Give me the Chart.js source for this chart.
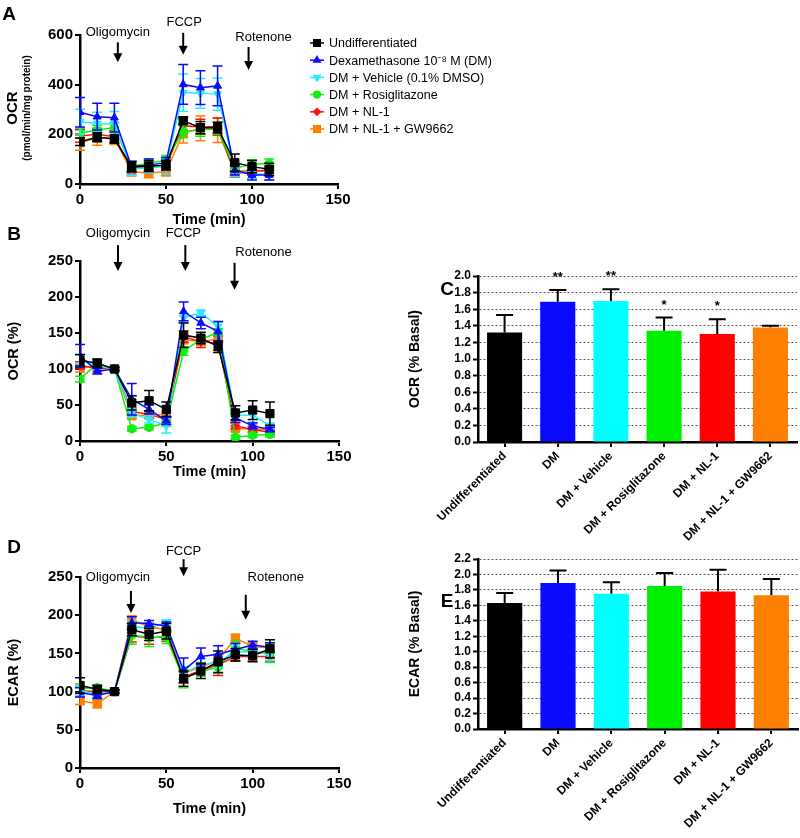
<!DOCTYPE html>
<html>
<head>
<meta charset="utf-8">
<script src="https://cdn.jsdelivr.net/npm/chart.js@4.4.0/dist/chart.umd.min.js"></script>
<style>
  html, body { margin: 0; padding: 0; background: #fff; }
  #page { position: relative; width: 800px; height: 838px; background: #fff; overflow: hidden; }
  #page canvas { position: absolute; }
  .letter { position: absolute; font: bold 19px "Liberation Sans", Arial, sans-serif; line-height: 1; transform: translate(-50%, -50%); color: #000; }
</style>
</head>
<body>
<div id="page">
  <canvas id="chartA" width="560" height="240" style="left:0;top:0;width:560px;height:240px"></canvas>
  <canvas id="chartB" width="380" height="280" style="left:0;top:215px;width:380px;height:280px"></canvas>
  <canvas id="chartD" width="380" height="308" style="left:0;top:530px;width:380px;height:308px"></canvas>
  <canvas id="chartC" width="400" height="290" style="left:400px;top:255px;width:400px;height:290px"></canvas>
  <canvas id="chartE" width="400" height="298" style="left:400px;top:540px;width:400px;height:298px"></canvas>
  <div class="letter" style="left:9px;top:13px">A</div>
  <div class="letter" style="left:14px;top:233px">B</div>
  <div class="letter" style="left:447px;top:288px">C</div>
  <div class="letter" style="left:14px;top:546px">D</div>
  <div class="letter" style="left:447px;top:600px">E</div>
</div>
<script>
// ---- data ----
const times = [0, 10, 20, 30, 40, 50, 60, 70, 80, 90, 100, 110];
const seriesNames = ["Undifferentiated", "Dexamethasone 10\u207B\u2078 M (DM)", "DM + Vehicle (0.1% DMSO)",
  "DM + Rosiglitazone", "DM + NL-1", "DM + NL-1 + GW9662"];
const barCategories = ["Undifferentiated", "DM", "DM + Vehicle", "DM + Rosiglitazone", "DM + NL-1", "DM + NL-1 + GW9662"];

// A: OCR (pmol/min/mg protein)
const ocrUndiff    = [170, 188, 181, 70, 72, 76, 255, 227, 227, 86, 70, 59];
const ocrUndiffErr = [15, 18, 16, 20, 22, 20, 15, 25, 22, 35, 25, 25];
const ocrDM        = [289, 271, 267, 70, 76, 87, 401, 388, 395, 56, 36, 36];
const ocrDMErr     = [59, 54, 58, 22, 25, 20, 80, 68, 80, 20, 20, 20];
const ocrVeh       = [251, 244, 242, 60, 65, 70, 368, 365, 362, 50, 43, 36];
const ocrVehErr    = [50, 45, 50, 25, 20, 30, 75, 60, 65, 20, 20, 20];
const ocrRosi      = [204, 217, 227, 74, 83, 97, 211, 217, 224, 63, 80, 83];
const ocrRosiErr   = [20, 20, 20, 18, 18, 18, 25, 25, 25, 18, 18, 18];
const ocrNL1       = [193, 200, 190, 63, 70, 74, 234, 231, 231, 43, 50, 56];
const ocrNL1Err    = [25, 25, 25, 18, 18, 18, 30, 30, 35, 15, 15, 15];
const ocrGW        = [166, 186, 184, 50, 43, 50, 205, 224, 217, 50, 56, 50];
const ocrGWErr     = [30, 30, 25, 18, 18, 18, 40, 50, 50, 18, 18, 18];

// B: OCR (%)
const pctUndiff    = [112, 108, 100, 53, 56, 44, 147, 143, 131, 39, 43, 38];
const pctUndiffErr = [8, 6, 2, 10, 14, 10, 17, 8, 8, 10, 13, 16];
const pctDM        = [118, 97, 100, 58, 44, 28, 180, 164, 152, 32, 21, 16];
const pctDMErr     = [16, 4, 2, 22, 6, 5, 13, 8, 14, 6, 4, 3];
const pctVeh       = [113, 104, 100, 39, 30, 21, 171, 178, 159, 35, 36, 21];
const pctVehErr    = [6, 4, 2, 6, 5, 10, 6, 4, 6, 6, 10, 4];
const pctRosi      = [86, 108, 100, 17, 19, 25, 125, 141, 151, 5, 8, 9];
const pctRosiErr   = [4, 4, 2, 3, 3, 4, 6, 5, 5, 3, 3, 3];
const pctNL1       = [105, 101, 100, 41, 37, 30, 145, 138, 136, 21, 16, 12];
const pctNL1Err    = [5, 4, 2, 5, 5, 4, 8, 8, 10, 4, 4, 3];
const pctGW        = [101, 104, 100, 35, 36, 37, 141, 138, 142, 17, 17, 16];
const pctGWErr     = [5, 4, 2, 4, 4, 4, 6, 5, 6, 3, 3, 3];

// D: ECAR (%)
const ecarUndiff    = [108, 103, 100, 181, 175, 179, 117, 127, 139, 148, 147, 156];
const ecarUndiffErr = [10, 5, 2, 8, 8, 10, 10, 10, 14, 8, 8, 12];
const ecarDM        = [99, 95, 100, 190, 189, 186, 128, 146, 149, 155, 161, 158];
const ecarDMErr     = [6, 4, 2, 8, 4, 5, 16, 11, 11, 8, 5, 6];
const ecarVeh       = [101, 97, 100, 185, 183, 190, 124, 135, 139, 152, 152, 149];
const ecarVehErr    = [6, 4, 2, 8, 6, 4, 8, 8, 8, 8, 6, 8];
const ecarRosi      = [104, 105, 100, 174, 171, 171, 117, 126, 132, 157, 152, 150];
const ecarRosiErr   = [6, 4, 2, 12, 12, 8, 12, 6, 8, 10, 8, 12];
const ecarNL1       = [101, 100, 100, 173, 170, 172, 119, 128, 135, 146, 146, 146];
const ecarNL1Err    = [6, 4, 2, 8, 8, 6, 8, 8, 14, 6, 6, 6];
const ecarGW        = [88, 84, 100, 194, 185, 181, 124, 132, 141, 170, 159, 157];
const ecarGWErr     = [5, 5, 2, 5, 4, 4, 8, 6, 6, 5, 5, 6];

// C / E: fold of basal
const ocrBasal     = [1.32, 1.69, 1.70, 1.34, 1.30, 1.38];
const ocrBasalErr  = [0.21, 0.14, 0.14, 0.16, 0.18, 0.02];
const ocrBasalSig  = ["", "**", "**", "*", "*", ""];
const ecarBasal    = [1.63, 1.89, 1.75, 1.85, 1.78, 1.73];
const ecarBasalErr = [0.13, 0.16, 0.15, 0.17, 0.28, 0.21];

// injection arrows: time (min) and the value the arrow points to
const arrowsA = [{ text: "Oligomycin", t: 22, tip: 490 }, { text: "FCCP", t: 60, tip: 520 }, { text: "Rotenone", t: 98, tip: 459 }];
const arrowsB = [{ text: "Oligomycin", t: 22, tip: 236 }, { text: "FCCP", t: 61, tip: 236 }, { text: "Rotenone", t: 89.5, tip: 210 }];
const arrowsD = [{ text: "Oligomycin", t: 29.5, tip: 203 }, { text: "FCCP", t: 60, tip: 251 }, { text: "Rotenone", t: 96, tip: 194 }];

// ---- styles ----
const FONT = '"Liberation Sans", Arial, Helvetica, sans-serif';
const seriesStyles = [
  { color: "#000000", pointStyle: "rect", radius: 5.8, rotation: 0 },
  { color: "#0a0aff", pointStyle: "triangle", radius: 4.6, rotation: 0 },
  { color: "#22eeff", pointStyle: "triangle", radius: 4.6, rotation: 180 },
  { color: "#11ee11", pointStyle: "circle", radius: 4.2, rotation: 0 },
  { color: "#ff1010", pointStyle: "rectRot", radius: 4.2, rotation: 0 },
  { color: "#ff8000", pointStyle: "rect", radius: 5.8, rotation: 0 }
];
const barColors = ["#000000", "#0a0aff", "#00ffff", "#00ee00", "#ff0000", "#ff8000"];

// error bars drawn under each dataset
const errorBars = {
  id: "errorBars",
  beforeDatasetDraw(chart, args) {
    const ds = chart.data.datasets[args.index];
    if (!ds.errors) return;
    const ctx = chart.ctx, ys = chart.scales.y;
    const half = ds.capHalf || 5;
    ctx.save();
    ctx.lineWidth = ds.errWidth || 1.5;
    args.meta.data.forEach((el, i) => {
      const d = ds.data[i];
      const v = typeof d === "object" ? d.y : d;
      const e = ds.errors[i];
      ctx.strokeStyle = ds.errColor || ds.borderColor;
      const x = el.x;
      const yTop = ys.getPixelForValue(v + e);
      const yBot = ds.upOnly ? ys.getPixelForValue(v) : ys.getPixelForValue(v - e);
      ctx.beginPath();
      ctx.moveTo(x, yBot); ctx.lineTo(x, yTop);
      ctx.moveTo(x - half, yTop); ctx.lineTo(x + half, yTop);
      if (!ds.upOnly) { ctx.moveTo(x - half, yBot); ctx.lineTo(x + half, yBot); }
      ctx.stroke();
    });
    ctx.restore();
  }
};

// arrows with labels for injections
const injections = {
  id: "injections",
  afterDraw(chart, args, opts) {
    if (!opts.items) return;
    const ctx = chart.ctx, xs = chart.scales.x, ys = chart.scales.y;
    ctx.save();
    ctx.fillStyle = "#000"; ctx.strokeStyle = "#000"; ctx.lineWidth = 2;
    ctx.font = "13px " + FONT; ctx.textAlign = "center"; ctx.textBaseline = "middle";
    opts.items.forEach((a, k) => {
      const x = xs.getPixelForValue(a.t);
      const tip = ys.getPixelForValue(a.tip);
      const top = tip - opts.len[k];
      ctx.beginPath(); ctx.moveTo(x, top); ctx.lineTo(x, tip - 6); ctx.stroke();
      ctx.beginPath(); ctx.moveTo(x - 4.5, tip - 9); ctx.lineTo(x + 4.5, tip - 9); ctx.lineTo(x, tip); ctx.closePath(); ctx.fill();
      ctx.fillText(a.text, x + opts.dx[k], top - opts.gap[k]);
    });
    ctx.restore();
  }
};

// legend drawn next to panel A
const seriesLegend = {
  id: "seriesLegend",
  afterDraw(chart, args, opts) {
    if (!opts.show) return;
    const ctx = chart.ctx;
    ctx.save();
    ctx.font = "12.5px " + FONT; ctx.textBaseline = "middle"; ctx.textAlign = "left";
    chart.data.datasets.forEach((ds, k) => {
      const y = opts.y + k * opts.rowH;
      ctx.strokeStyle = ds.borderColor; ctx.lineWidth = 1.5;
      ctx.beginPath(); ctx.moveTo(opts.x - 7, y); ctx.lineTo(opts.x + 7, y); ctx.stroke();
      ctx.fillStyle = ds.borderColor;
      Chart.helpers.drawPoint(ctx, { pointStyle: ds.pointStyle, rotation: ds.pointRotation, radius: ds.pointRadius * 0.8, borderWidth: 1 }, opts.x, y);
      ctx.fillStyle = "#000";
      ctx.fillText(ds.label, opts.x + 12, y + 1);
    });
    ctx.restore();
  }
};

// two-line y title of panel A
const sideTitle = {
  id: "sideTitle",
  afterDraw(chart, args, opts) {
    if (!opts.lines) return;
    const ctx = chart.ctx;
    opts.lines.forEach(l => {
      ctx.save();
      ctx.translate(l.x, opts.y); ctx.rotate(-Math.PI / 2);
      ctx.font = "bold " + l.size + "px " + FONT; ctx.fillStyle = "#000";
      ctx.textAlign = "center"; ctx.textBaseline = "middle";
      ctx.fillText(l.text, 0, 0);
      ctx.restore();
    });
  }
};

// significance stars above the bar error bars
const sigStars = {
  id: "sigStars",
  afterDatasetsDraw(chart, args, opts) {
    if (!opts.marks) return;
    const ctx = chart.ctx, ds = chart.data.datasets[0], ys = chart.scales.y;
    const meta = chart.getDatasetMeta(0);
    ctx.save();
    ctx.font = "bold 13px " + FONT; ctx.fillStyle = "#000"; ctx.textAlign = "center"; ctx.textBaseline = "bottom";
    opts.marks.forEach((m, i) => {
      if (!m) return;
      const y = ys.getPixelForValue(ds.data[i] + ds.errors[i]);
      ctx.fillText(m, meta.data[i].x, y - 6);
    });
    ctx.restore();
  }
};

function lineChart(id, area, size, yMax, yStep, yTitle, titlePad, values, errs, arrows, arrowOpts, extra) {
  const datasets = values.map((vals, k) => ({
    label: seriesNames[k],
    data: vals.map((v, i) => ({ x: times[i], y: v })),
    errors: errs[k],
    borderColor: seriesStyles[k].color,
    backgroundColor: seriesStyles[k].color,
    pointBackgroundColor: seriesStyles[k].color,
    pointBorderColor: seriesStyles[k].color,
    pointStyle: seriesStyles[k].pointStyle,
    pointRadius: seriesStyles[k].radius,
    pointRotation: seriesStyles[k].rotation,
    pointBorderWidth: 1,
    borderWidth: 1.5,
    tension: 0,
    capHalf: 5
  }));
  const tickFont = { family: FONT, size: 15, weight: "bold" };
  return new Chart(document.getElementById(id), {
    type: "line",
    data: { datasets },
    options: {
      responsive: false, animation: false, events: [],
      layout: { padding: { left: 0, top: area.top, right: size.w - area.right, bottom: 0 } },
      plugins: Object.assign({
        legend: { display: false }, tooltip: { enabled: false },
        injections: Object.assign({ items: arrows }, arrowOpts)
      }, extra || {}),
      scales: {
        x: {
          type: "linear", min: 0, max: 150,
          ticks: { stepSize: 50, color: "#000", font: tickFont, padding: 2 },
          grid: { drawOnChartArea: false, tickLength: 5, color: "#000", lineWidth: 2 },
          border: { color: "#000", width: 2.5 },
          title: { display: true, text: "Time (min)", color: "#000", font: { family: FONT, size: 14.5, weight: "bold" }, padding: { top: 0, bottom: titlePad.x } },
          afterFit(s) { s.height = size.h - area.bottom; }
        },
        y: {
          min: 0, max: yMax,
          ticks: { stepSize: yStep, color: "#000", font: tickFont, padding: 2 },
          grid: { drawOnChartArea: false, tickLength: 5, color: "#000", lineWidth: 2 },
          border: { color: "#000", width: 2.5 },
          title: { display: !!yTitle, text: yTitle, color: "#000", font: { family: FONT, size: 14.5, weight: "bold" }, padding: { top: titlePad.y, bottom: 0 } },
          afterFit(s) { s.width = area.left; }
        }
      }
    },
    plugins: [errorBars, injections, seriesLegend, sideTitle]
  });
}

function barChart(id, area, size, yMax, values, errs, yTitle, extra) {
  return new Chart(document.getElementById(id), {
    type: "bar",
    data: {
      labels: barCategories,
      datasets: [{
        data: values, errors: errs, upOnly: true, capHalf: 8.5, errWidth: 2, errColor: "#000",
        backgroundColor: barColors, borderWidth: 0,
        categoryPercentage: 1, barPercentage: 0.66
      }]
    },
    options: {
      responsive: false, animation: false, events: [],
      layout: { padding: { left: 0, top: area.top, right: size.w - area.right, bottom: 0 } },
      plugins: Object.assign({ legend: { display: false }, tooltip: { enabled: false } }, extra || {}),
      scales: {
        x: {
          offset: true,
          ticks: { color: "#000", font: { family: FONT, size: 12, weight: "bold" }, minRotation: 45, maxRotation: 45, autoSkip: false, padding: 2 },
          grid: { offset: false, drawOnChartArea: false, tickLength: 5, color: "#000", lineWidth: 2 },
          border: { color: "#000", width: 2.5 },
          afterFit(s) { s.height = size.h - area.bottom; }
        },
        y: {
          min: 0, max: yMax,
          ticks: { count: Math.round(yMax / 0.2) + 1, autoSkip: false, color: "#000", font: { family: FONT, size: 12, weight: "bold" }, padding: 2, callback: v => v.toFixed(1) },
          grid: { color: "#555", lineWidth: 1, tickColor: "#000", tickWidth: 2, tickLength: 5, tickBorderDash: [] },
          border: { color: "#000", width: 2.5, dash: [2, 2] },
          title: { display: true, text: yTitle, color: "#000", font: { family: FONT, size: 14, weight: "bold" }, padding: { top: 6.5, bottom: 0 } },
          afterFit(s) { s.width = area.left; }
        }
      }
    },
    plugins: [errorBars, sigStars]
  });
}

// Panel A
lineChart("chartA", { left: 80, right: 338, top: 35, bottom: 184 }, { w: 560, h: 240 }, 600, 200, "", { x: 11, y: 0 },
  [ocrUndiff, ocrDM, ocrVeh, ocrRosi, ocrNL1, ocrGW],
  [ocrUndiffErr, ocrDMErr, ocrVehErr, ocrRosiErr, ocrNL1Err, ocrGWErr],
  arrowsA, { len: [20, 22, 23], gap: [10, 10, 10], dx: [0, 1, 15] },
  {
    seriesLegend: { show: true, x: 317, y: 43, rowH: 17.2 },
    sideTitle: { y: 108, lines: [{ text: "OCR", x: 13, size: 15 }, { text: "(pmol/min/mg protein)", x: 27, size: 10 }] }
  });

// Panel B
lineChart("chartB", { left: 80, right: 339, top: 46, bottom: 226 }, { w: 380, h: 280 }, 250, 50, "OCR (%)", { x: 14, y: 5.5 },
  [pctUndiff, pctDM, pctVeh, pctRosi, pctNL1, pctGW],
  [pctUndiffErr, pctDMErr, pctVehErr, pctRosiErr, pctNL1Err, pctGWErr],
  arrowsB, { len: [26, 26, 27], gap: [12, 12, 10], dx: [0, -2, 29] });

// Panel D
lineChart("chartD", { left: 80, right: 339, top: 47, bottom: 238 }, { w: 380, h: 308 }, 250, 50, "ECAR (%)", { x: 20, y: 5.5 },
  [ecarUndiff, ecarDM, ecarVeh, ecarRosi, ecarNL1, ecarGW],
  [ecarUndiffErr, ecarDMErr, ecarVehErr, ecarRosiErr, ecarNL1Err, ecarGWErr],
  arrowsD, { len: [22, 17, 25], gap: [13, 8, 17], dx: [-13, 0, 30] });

// Panel C
barChart("chartC", { left: 78, right: 397, top: 21, bottom: 187 }, { w: 400, h: 290 }, 2.0, ocrBasal, ocrBasalErr, "OCR (% Basal)",
  { sigStars: { marks: ocrBasalSig } });

// Panel E
barChart("chartE", { left: 78, right: 398, top: 19, bottom: 189 }, { w: 400, h: 298 }, 2.2, ecarBasal, ecarBasalErr, "ECAR (% Basal)");
</script>
</body>
</html>
